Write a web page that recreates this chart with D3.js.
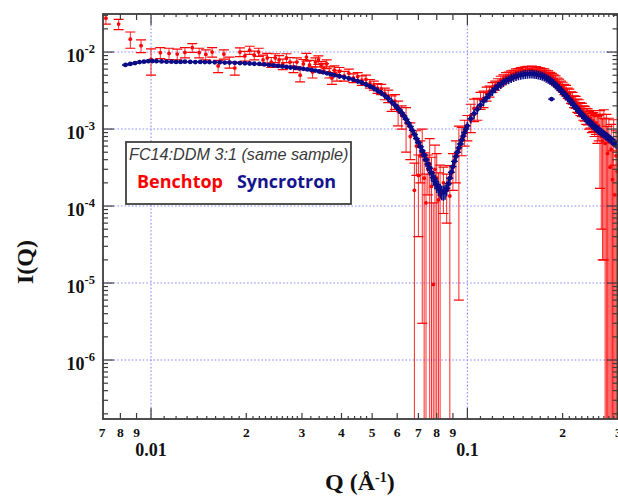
<!DOCTYPE html>
<html>
<head>
<meta charset="utf-8">
<script src="https://cdn.jsdelivr.net/npm/d3@7"></script>
<style>
  html, body { margin: 0; padding: 0; background: #fff; }
  svg { display: block; }
</style>
</head>
<body>
<svg id="chart" width="618" height="496"></svg>
<script>
// ---- Benchtop SAXS: q (1/Å), I(q), absolute error ----
const benchQ = [
  0.0072,0.0079,0.0086,0.0093,0.0100,0.0107,0.0114,0.0121,0.0128,0.0135,
  0.0142,0.0149,0.0156,0.0163,0.0170,0.0177,0.0184,0.0191,0.0198,0.0205,
  0.0212,0.0219,0.0226,0.0233,0.0240,0.0247,0.0254,0.0261,0.0268,0.0275,
  0.0282,0.0289,0.0296,0.0303,0.0310,0.0317,0.0324,0.0331,0.0338,0.0345,
  0.0352,0.0359,0.0366,0.0373,0.0380,0.0387,0.0394,0.0408,0.0422,0.0436,
  0.0450,0.0464,0.0478,0.0492,0.0506,0.0520,0.0534,0.0548,0.0562,0.0576,
  0.0590,0.0604,0.062,0.064,0.066,0.068,0.069,0.070,0.071,0.072,
  0.073,0.074,0.075,0.076,0.077,0.078,0.079,0.080,0.081,0.082,
  0.084,0.086,0.088,0.090,0.092,0.094,0.096,0.098,0.100,0.1025,
  0.105,0.1075,0.110,0.1125,0.115,0.1175,0.120,0.1225,0.125,0.1275,
  0.130,0.1325,0.135,0.1375,0.140,0.1425,0.145,0.1475,0.150,0.1525,
  0.155,0.1575,0.160,0.1625,0.165,0.1675,0.170,0.1725,0.175,0.1775,
  0.180,0.1825,0.185,0.1875,0.190,0.1925,0.195,0.1975,0.200,0.2025,
  0.205,0.2075,0.210,0.2125,0.215,0.2175,0.220,0.2225,0.225,0.2275,
  0.230,0.2325,0.235,0.2375,0.240,0.2425,0.245,0.2475,0.250,0.2525,
  0.255,0.2575,0.260,0.2625,0.265,0.2675,0.270,0.2725,0.275,0.2775,
  0.280,0.2825,0.285,0.2875,0.290,0.2925,0.295,0.2975
];
const benchI = [
  0.0275,0.0231,0.0147,0.0121,0.0080,0.0098,0.0096,0.0094,0.0099,0.0114,
  0.0098,0.0093,0.0100,0.0066,0.0094,0.0074,0.0062,0.0100,0.0089,0.0106,
  0.0091,0.0100,0.0079,0.0084,0.0074,0.0084,0.0079,0.0070,0.0084,0.0074,
  0.0064,0.0074,0.0050,0.0070,0.0086,0.0068,0.0055,0.0074,0.0079,0.0066,
  0.0062,0.0070,0.0055,0.0046,0.0058,0.0050,0.0056,0.0049,0.0053,0.0046,
  0.0048,0.0043,0.0044,0.0039,0.0037,0.0034,0.0033,0.0029,0.0027,0.0022,
  0.0023,0.0017,0.0015,0.0012,0.0008,0.00016,0.0006,0.00025,0.00045,0.0005,
  0.00023,0.00011,0.0003,0.00035,0.00018,0.0000096,0.0003,0.00023,0.00012,0.00014,
  0.0002,0.00016,0.000135,0.00032,0.00045,0.00055,0.00075,0.00095,0.0011,0.0015,
  0.00185,0.0019,0.0024,0.0025,0.0029,0.0031,0.0035,0.0037,0.0040,0.0043,
  0.0045,0.0048,0.0049,0.0051,0.0052,0.00545,0.0055,0.0057,0.00575,0.0058,
  0.0059,0.00585,0.00595,0.0058,0.00585,0.0057,0.00565,0.0055,0.00545,0.0052,
  0.0051,0.0049,0.00475,0.0045,0.00435,0.0041,0.00395,0.0037,0.00355,0.0033,
  0.0032,0.00295,0.00285,0.0026,0.00255,0.0023,0.00225,0.00205,0.0020,0.00185,
  0.0018,0.00165,0.00162,0.0015,0.00148,0.00135,0.00138,0.00125,0.00128,0.00115,
  0.0012,0.00105,0.0011,0.00095,0.0008,0.0007,0.0009,0.00065,0.00075,0.00048,
  0.00068,0.00032,0.00055,0.00022,0.00062,0.00014,0.00045,0.00028
];
const benchErr = [
  0.0045,0.0035,0.0035,0.0023,0.0030,0.0016,0.0016,0.0015,0.0015,0.0015,
  0.0014,0.0014,0.0014,0.0012,0.0013,0.0012,0.0012,0.0013,0.0013,0.0013,
  0.0012,0.0012,0.0012,0.0012,0.0011,0.0011,0.0011,0.0011,0.0011,0.0011,
  0.0010,0.0010,0.0009,0.0010,0.0010,0.0010,0.0009,0.0010,0.0010,0.0009,
  0.0009,0.0009,0.0009,0.0008,0.0008,0.0008,0.0007,0.0007,0.0007,0.0006,
  0.0006,0.0006,0.0006,0.0005,0.0005,0.0005,0.0005,0.0005,0.0005,0.0005,
  0.0005,0.0006,0.0005,0.0007,0.0004,0.0002,0.00035,0.00021,0.00025,0.000497,
  0.00026,0.00015,0.00016,0.0004,0.00025,0.0001,0.00032,0.00025,0.00015,0.0002,
  0.00012,0.0001,0.0002,0.00016,0.00025,0.000544,0.0003,0.00035,0.0004,0.0006,
  0.0006,0.0006,0.0006,0.0006,0.0006,0.0005,0.0005,0.0005,0.0005,0.00055,
  0.00055,0.0006,0.0006,0.0006,0.0006,0.0006,0.0006,0.0006,0.0006,0.0006,
  0.0006,0.0006,0.0006,0.0006,0.0006,0.0006,0.0006,0.0006,0.0006,0.0006,
  0.0006,0.00055,0.00055,0.00055,0.00055,0.0005,0.0005,0.0005,0.0005,0.0005,
  0.0005,0.00045,0.00045,0.00045,0.00045,0.0004,0.0004,0.0004,0.0004,0.00035,
  0.00035,0.00035,0.00035,0.00035,0.00035,0.00035,0.00035,0.00035,0.00035,0.00035,
  0.00035,0.0004,0.0004,0.00078,0.00075,0.00068,0.00088,0.0007,0.0008,0.0006,
  0.0007,0.0004,0.0006,0.0003,0.0007,0.0002,0.0005,0.0004
];

// ---- Synchrotron SAXS: q (1/Å), I(q), relative error ----
const syncQ = [
  0.0083,0.0086,0.0089,0.0092,0.0095,0.0098,0.0101,0.0104,0.0108,0.0112,
  0.0116,0.0120,0.0124,0.0128,0.0133,0.0138,0.0143,0.0148,0.0153,0.0159,
  0.0165,0.0171,0.0177,0.0184,0.0191,0.0198,0.0205,0.0212,0.0220,0.0228,
  0.0236,0.0244,0.0252,0.0260,0.0268,0.0276,0.0285,0.0294,0.0303,0.0312,
  0.0321,0.0330,0.0340,0.0350,0.0360,0.0370,0.0380,0.0394,0.0408,0.0422,
  0.0436,0.0450,0.0464,0.0478,0.0492,0.0506,0.0520,0.0534,0.0548,0.0562,
  0.0576,0.0590,0.0600,0.061,0.062,0.063,0.064,0.065,0.066,0.067,
  0.068,0.069,0.070,0.071,0.072,0.073,0.074,0.075,0.076,0.077,
  0.078,0.079,0.080,0.081,0.082,0.083,0.084,0.085,0.086,0.087,
  0.088,0.089,0.090,0.091,0.092,0.093,0.094,0.095,0.096,0.097,
  0.098,0.099,0.100,0.1025,0.105,0.1075,0.110,0.1125,0.115,0.1175,
  0.120,0.1225,0.125,0.1275,0.130,0.1325,0.135,0.1375,0.140,0.1425,
  0.145,0.1475,0.150,0.1525,0.155,0.1575,0.160,0.1625,0.165,0.1675,
  0.170,0.1725,0.175,0.1775,0.180,0.1825,0.1845,0.185,0.1875,0.190,
  0.1925,0.195,0.1975,0.200,0.2025,0.205,0.2075,0.210,0.2125,0.215,
  0.2175,0.220,0.2225,0.225,0.2275,0.230,0.2325,0.235,0.2375,0.240,
  0.2425,0.245,0.2475,0.250,0.2525,0.255,0.2575,0.260,0.2625,0.265,
  0.2675,0.270,0.2725,0.275,0.2775,0.280,0.2825,0.285,0.2875,0.290,
  0.2925,0.295,0.2975,0.300
];
const syncI = [
  6.8e-3,7.0e-3,7.2e-3,7.4e-3,7.5e-3,7.6e-3,7.65e-3,7.6e-3,7.55e-3,7.5e-3,
  7.5e-3,7.45e-3,7.45e-3,7.5e-3,7.45e-3,7.4e-3,7.45e-3,7.4e-3,7.4e-3,7.35e-3,
  7.35e-3,7.3e-3,7.3e-3,7.25e-3,7.2e-3,7.15e-3,7.1e-3,7.05e-3,7.0e-3,6.9e-3,
  6.8e-3,6.7e-3,6.6e-3,6.5e-3,6.4e-3,6.3e-3,6.25e-3,6.15e-3,6.05e-3,5.95e-3,
  5.85e-3,5.75e-3,5.6e-3,5.45e-3,5.3e-3,5.15e-3,5.0e-3,4.85e-3,4.7e-3,4.55e-3,
  4.38e-3,4.2e-3,4.0e-3,3.8e-3,3.6e-3,3.38e-3,3.15e-3,2.95e-3,2.72e-3,2.5e-3,
  2.27e-3,2.05e-3,1.9e-3,1.76e-3,1.62e-3,1.48e-3,1.34e-3,1.2e-3,1.08e-3,9.6e-4,
  8.5e-4,7.5e-4,6.7e-4,5.9e-4,5.2e-4,4.6e-4,4.0e-4,3.5e-4,3.1e-4,2.7e-4,
  2.35e-4,2.1e-4,1.9e-4,1.72e-4,1.6e-4,1.52e-4,1.5e-4,1.55e-4,1.7e-4,1.95e-4,
  2.3e-4,2.75e-4,3.25e-4,3.8e-4,4.4e-4,5.0e-4,5.7e-4,6.4e-4,7.2e-4,8.1e-4,
  9.0e-4,1.0e-3,1.1e-3,1.36e-3,1.58e-3,1.8e-3,2.05e-3,2.3e-3,2.55e-3,2.8e-3,
  3.08e-3,3.35e-3,3.6e-3,3.82e-3,4.05e-3,4.25e-3,4.4e-3,4.55e-3,4.7e-3,4.82e-3,
  4.95e-3,5.03e-3,5.1e-3,5.15e-3,5.18e-3,5.2e-3,5.2e-3,5.18e-3,5.12e-3,5.05e-3,
  4.97e-3,4.87e-3,4.75e-3,4.6e-3,4.45e-3,4.3e-3,2.45e-3,4.12e-3,3.95e-3,3.75e-3,
  3.56e-3,3.38e-3,3.2e-3,3.02e-3,2.86e-3,2.7e-3,2.56e-3,2.42e-3,2.28e-3,2.15e-3,
  2.03e-3,1.92e-3,1.82e-3,1.72e-3,1.63e-3,1.55e-3,1.48e-3,1.41e-3,1.35e-3,1.29e-3,
  1.24e-3,1.2e-3,1.15e-3,1.11e-3,1.07e-3,1.03e-3,1.0e-3,9.7e-4,9.4e-4,9.1e-4,
  8.85e-4,8.6e-4,8.35e-4,8.1e-4,7.9e-4,7.7e-4,7.45e-4,7.2e-4,7.0e-4,6.8e-4,
  6.6e-4,6.4e-4,6.25e-4,6.1e-4
];
const syncRelErr = [
  0.04,0.04,0.04,0.04,0.04,0.04,0.04,0.04,0.04,0.04,
  0.04,0.04,0.04,0.04,0.04,0.04,0.04,0.04,0.04,0.04,
  0.04,0.04,0.04,0.04,0.04,0.04,0.04,0.04,0.04,0.04,
  0.04,0.04,0.04,0.04,0.04,0.04,0.04,0.04,0.04,0.04,
  0.04,0.04,0.05,0.05,0.05,0.05,0.05,0.07,0.07,0.07,
  0.07,0.08,0.08,0.08,0.08,0.09,0.09,0.09,0.09,0.1,
  0.1,0.1,0.1,0.11,0.11,0.12,0.12,0.12,0.12,0.13,
  0.13,0.14,0.15,0.16,0.18,0.18,0.2,0.2,0.2,0.22,
  0.22,0.22,0.22,0.22,0.22,0.22,0.22,0.22,0.22,0.2,
  0.2,0.18,0.18,0.16,0.15,0.14,0.13,0.13,0.13,0.13,
  0.13,0.13,0.13,0.13,0.13,0.13,0.13,0.13,0.13,0.13,
  0.13,0.13,0.13,0.13,0.13,0.13,0.13,0.13,0.13,0.13,
  0.13,0.13,0.13,0.13,0.13,0.13,0.13,0.13,0.13,0.13,
  0.13,0.13,0.13,0.13,0.13,0.13,0.03,0.13,0.13,0.13,
  0.13,0.13,0.13,0.13,0.13,0.13,0.13,0.13,0.13,0.13,
  0.13,0.13,0.13,0.13,0.13,0.13,0.13,0.13,0.13,0.13,
  0.13,0.13,0.13,0.13,0.13,0.13,0.13,0.13,0.13,0.13,
  0.13,0.13,0.13,0.13,0.13,0.13,0.13,0.13,0.13,0.13,
  0.13,0.13,0.13,0.13
];

// ---- Axis labels ----
const xDigitTicks = [0.007,0.008,0.009,0.02,0.03,0.04,0.05,0.06,0.07,0.08,0.09,0.2,0.3];
const xDigitText  = ["7","8","9","2","3","4","5","6","7","8","9","2","3"];
const xDecadeTicks = [0.01, 0.1];
const xDecadeText  = ["0.01", "0.1"];
const yDecadeTicks = [1e-2, 1e-3, 1e-4, 1e-5, 1e-6];
const yDecadeExp   = ["-2", "-3", "-4", "-5", "-6"];
const legendTitle = "FC14:DDM 3:1 (same sample)";
const seriesNames = ["Benchtop", "Syncrotron"];

// ---- Layout ----
const W = 618, H = 496;
const L = 103, R = 617.5, T = 14, B = 419;
const RED = "#ff0000", NAVY = "#0b0b86", AXIS = "#3c3c3c";
const SERIF = "'Liberation Serif','Times New Roman',serif";

const x = d3.scaleLog().domain([0.00705, 0.2982]).range([L, R]);
const y = d3.scaleLog().domain([1.714e-7, 0.0312]).range([B, T]);

const svg = d3.select("#chart");
svg.append("rect").attr("width", W).attr("height", H).attr("fill", "#fff");

svg.append("defs").append("clipPath").attr("id", "plotclip")
  .append("rect").attr("x", L).attr("y", T).attr("width", R - L).attr("height", B - T);

// dotted decade grid
const grid = svg.append("g")
  .attr("stroke", "#8b8bff").attr("stroke-width", 1.1).attr("stroke-dasharray", "1.6,2");
grid.selectAll("line.gx").data(xDecadeTicks).join("line")
  .attr("x1", d => x(d)).attr("x2", d => x(d)).attr("y1", T).attr("y2", B);
grid.selectAll("line.gy").data(yDecadeTicks).join("line")
  .attr("x1", L).attr("x2", R).attr("y1", d => y(d)).attr("y2", d => y(d));

const plot = svg.append("g").attr("clip-path", "url(#plotclip)");

// Benchtop: vertical error bars with end caps and a dot
const bench = benchQ.map((q, i) => ({ q, I: benchI[i], e: benchErr[i] }));
const capHalf = 5;
const gB = plot.append("g");
bench.forEach(d => {
  const cx = x(d.q);
  const yHi = y(d.I + d.e);
  const lo = d.I - d.e;
  const yLo = lo > 0 ? Math.min(y(lo), B + 2) : B + 2;
  gB.append("line").attr("x1", cx).attr("x2", cx).attr("y1", yHi).attr("y2", yLo)
    .attr("stroke", RED).attr("stroke-width", 1).attr("stroke-opacity", 0.85);
  gB.append("line").attr("x1", cx - capHalf).attr("x2", cx + capHalf).attr("y1", yHi).attr("y2", yHi)
    .attr("stroke", RED).attr("stroke-width", 1.2);
  if (lo > 0 && y(lo) < B) {
    gB.append("line").attr("x1", cx - capHalf).attr("x2", cx + capHalf).attr("y1", y(lo)).attr("y2", y(lo))
      .attr("stroke", RED).attr("stroke-width", 1.2);
  }
});
gB.selectAll("circle").data(bench).join("circle")
  .attr("cx", d => x(d.q)).attr("cy", d => y(d.I)).attr("r", 1.9).attr("fill", RED);

// Synchrotron: dots with small x and y error bars
const sync = syncQ.map((q, i) => ({ q, I: syncI[i], r: syncRelErr[i] }));
const gS = plot.append("g").attr("stroke", NAVY);
gS.selectAll("line.v").data(sync).join("line").attr("class", "v")
  .attr("x1", d => x(d.q)).attr("x2", d => x(d.q))
  .attr("y1", d => y(d.I * (1 + d.r))).attr("y2", d => y(d.I * (1 - d.r)))
  .attr("stroke-width", 1.6);
gS.selectAll("line.h").data(sync).join("line").attr("class", "h")
  .attr("x1", d => x(d.q) - 3.5).attr("x2", d => x(d.q) + 3.5)
  .attr("y1", d => y(d.I)).attr("y2", d => y(d.I))
  .attr("stroke-width", 1.4);
gS.selectAll("circle").data(sync).join("circle")
  .attr("cx", d => x(d.q)).attr("cy", d => y(d.I)).attr("r", 2.4).attr("fill", NAVY).attr("stroke", "none");

// ---- Axes: frame and inward ticks on all four sides ----
const ax = svg.append("g").attr("stroke", AXIS).attr("fill", "none");
const [x0, x1] = x.domain(), [y0, y1] = y.domain();

const xTicks = [];
for (let e = -3; e <= -1; e++) {
  for (let k = 1; k <= 9; k++) {
    const v = k * Math.pow(10, e);
    if (v >= x0 && v <= x1) xTicks.push({ v, len: k === 1 ? 11 : 6 });
    const step = k <= 2 ? 0.1 : (k <= 4 ? 0.2 : 0);
    if (step && e > -3) {
      for (let s = k + step; s < k + 1 - 1e-9; s += step) {
        const w = s * Math.pow(10, e);
        if (w >= x0 && w <= x1) xTicks.push({ v: w, len: 3 });
      }
    }
  }
}
const yTicks = [];
for (let e = -7; e <= -2; e++) {
  for (let k = 1; k <= 9; k++) {
    const v = k * Math.pow(10, e);
    if (v >= y0 && v <= y1) yTicks.push({ v, len: k === 1 ? 11 : 5 });
  }
}
ax.selectAll("line.xb").data(xTicks).join("line")
  .attr("x1", d => x(d.v)).attr("x2", d => x(d.v)).attr("y1", B).attr("y2", d => B - d.len).attr("stroke-width", 1.2);
ax.selectAll("line.xt").data(xTicks).join("line").attr("class", "xt")
  .attr("x1", d => x(d.v)).attr("x2", d => x(d.v)).attr("y1", T).attr("y2", d => T + d.len).attr("stroke-width", 1.2);
ax.selectAll("line.yl").data(yTicks).join("line").attr("class", "yl")
  .attr("x1", L).attr("x2", d => L + d.len).attr("y1", d => y(d.v)).attr("y2", d => y(d.v)).attr("stroke-width", 1.2);
ax.selectAll("line.yr").data(yTicks).join("line").attr("class", "yr")
  .attr("x1", R).attr("x2", d => R - d.len).attr("y1", d => y(d.v)).attr("y2", d => y(d.v)).attr("stroke-width", 1.2);
ax.append("rect").attr("x", L).attr("y", T).attr("width", R - L).attr("height", B - T).attr("stroke-width", 1.8);

// tick labels
const lab = svg.append("g").attr("font-family", SERIF).attr("font-weight", "bold").attr("fill", "#111");
lab.selectAll("text.xd").data(xDigitTicks).join("text").attr("class", "xd")
  .attr("x", d => x(d)).attr("y", 437).attr("text-anchor", "middle").attr("font-size", 13.5)
  .text((d, i) => xDigitText[i]);
lab.selectAll("text.xD").data(xDecadeTicks).join("text").attr("class", "xD")
  .attr("x", d => x(d)).attr("y", 456).attr("text-anchor", "middle").attr("font-size", 18)
  .text((d, i) => xDecadeText[i]);
const yl = lab.selectAll("text.yD").data(yDecadeTicks).join("text").attr("class", "yD")
  .attr("x", 95).attr("y", d => y(d) + 10).attr("text-anchor", "end").attr("font-size", 18);
yl.append("tspan").text("10");
yl.append("tspan").attr("dy", -9).attr("font-size", 12.5).text((d, i) => yDecadeExp[i]);

// axis titles
const xt = lab.append("text").attr("x", 325).attr("y", 490).attr("font-size", 24);
xt.append("tspan").text("Q (Å");
xt.append("tspan").attr("dy", -8).attr("font-size", 14).text("-1");
xt.append("tspan").attr("dy", 8).text(")");
lab.append("text").attr("transform", "translate(33,262) rotate(-90)")
  .attr("text-anchor", "middle").attr("font-size", 24).text("I(Q)");

// ---- Legend box ----
const lg = svg.append("g");
lg.append("rect").attr("x", 126).attr("y", 142).attr("width", 225).attr("height", 62)
  .attr("fill", "#fff").attr("stroke", "#404040").attr("stroke-width", 1.8);
lg.append("text").attr("x", 129).attr("y", 160)
  .attr("font-family", "'Liberation Sans', Arial, sans-serif").attr("font-style", "italic")
  .attr("font-size", 16.2).attr("fill", "#3a3a3a").text(legendTitle);
lg.append("text").attr("x", 137).attr("y", 188)
  .attr("font-family", "'Open Sans', sans-serif").attr("font-weight", "bold").attr("font-size", 18)
  .attr("fill", RED).attr("textLength", 86).attr("lengthAdjust", "spacingAndGlyphs").text(seriesNames[0]);
lg.append("text").attr("x", 237).attr("y", 188)
  .attr("font-family", "'Open Sans', sans-serif").attr("font-weight", "bold").attr("font-size", 18)
  .attr("fill", "#141490").attr("textLength", 99).attr("lengthAdjust", "spacingAndGlyphs").text(seriesNames[1]);
</script>
</body>
</html>
